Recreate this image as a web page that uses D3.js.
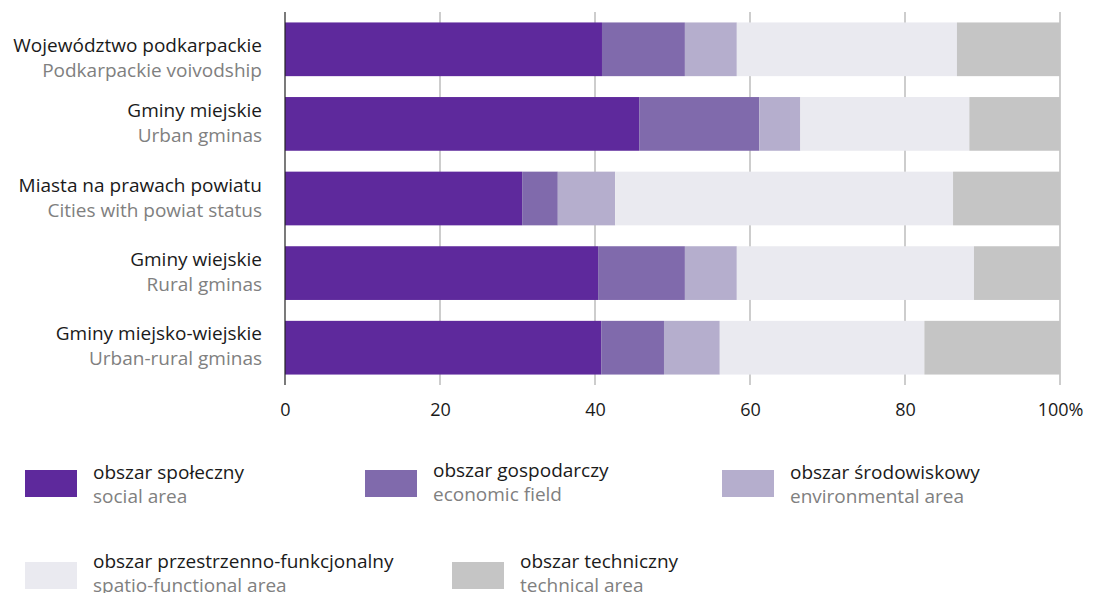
<!DOCTYPE html>
<html><head><meta charset="utf-8">
<script src="https://cdn.jsdelivr.net/npm/d3@7"></script>
<style>
body{margin:0;background:#fff;}
svg{font-family:"Open Sans",sans-serif;}
</style></head>
<body><svg id="chart" width="1093" height="593"></svg>
<script>
const categoriesPL = ["Województwo podkarpackie","Gminy miejskie","Miasta na prawach powiatu","Gminy wiejskie","Gminy miejsko-wiejskie"];
const categoriesEN = ["Podkarpackie voivodship","Urban gminas","Cities with powiat status","Rural gminas","Urban-rural gminas"];
const seriesPL = ["obszar społeczny","obszar gospodarczy","obszar środowiskowy","obszar przestrzenno-funkcjonalny","obszar techniczny"];
const seriesEN = ["social area","economic field","environmental area","spatio-functional area","technical area"];
const social        = [40.9, 45.7, 30.6, 40.4, 40.8];
const economic      = [10.7, 15.5,  4.6, 11.2,  8.1];
const environmental = [ 6.7,  5.3,  7.4,  6.7,  7.2];
const spatial       = [28.4, 21.8, 43.6, 30.6, 26.4];
const technical     = [13.3, 11.7, 13.8, 11.1, 17.5];
const tickValues = [0,20,40,60,80,100];
const tickLabels = ["0","20","40","60","80","100%"];
const colors = ["#5e299c","#806aac","#b5aecd","#eaeaf0","#c5c5c5"];

const FS = 19;
const labelShift = [10,0,0,0,-1];
const seriesVals = [social, economic, environmental, spatial, technical];
const svg = d3.select("#chart");
const x = d3.scaleLinear().domain([0,100]).range([285,1060]);
const y = d3.scaleBand().domain(d3.range(categoriesPL.length)).range([12,385]).paddingInner(0.28).paddingOuter(0.14);

svg.append("g").selectAll("line").data(tickValues.slice(1)).join("line")
  .attr("x1",d=>x(d)).attr("x2",d=>x(d)).attr("y1",12).attr("y2",385)
  .attr("stroke","#bdbdbd").attr("stroke-width",1.5);

const rows = categoriesPL.map((c,i)=>{const o={i}; seriesVals.forEach((s,k)=>o["s"+k]=s[i]); return o;});
const stack = d3.stack().keys(seriesVals.map((_,k)=>"s"+k))(rows);
svg.append("g").selectAll("g").data(stack).join("g").attr("fill",(d,k)=>colors[k])
  .selectAll("rect").data(d=>d).join("rect")
  .attr("x",d=>x(d[0])).attr("width",d=>x(d[1])-x(d[0]))
  .attr("y",d=>y(d.data.i)).attr("height",y.bandwidth());

svg.append("line").attr("x1",x(0)).attr("x2",x(0)).attr("y1",12).attr("y2",385)
  .attr("stroke","#222").attr("stroke-width",1.2);

const xAxis = d3.axisBottom(x).tickValues(tickValues).tickFormat((d,i)=>tickLabels[i]).tickSize(0).tickPadding(0);
const ax = svg.append("g").attr("transform","translate(0,416)").call(xAxis);
ax.select(".domain").remove();
ax.selectAll("text").attr("font-size",FS-1).attr("fill","#1a1a1a").attr("font-family","'Open Sans', sans-serif").attr("dy",0);

const lab = svg.append("g").selectAll("g").data(categoriesPL).join("g")
  .attr("transform",(d,i)=>`translate(262,${y(i)+y.bandwidth()/2+labelShift[i]})`);
lab.append("text").attr("text-anchor","end").attr("y",-7).attr("font-size",FS).attr("fill","#1a1a1a").text(d=>d);
lab.append("text").attr("text-anchor","end").attr("y",18).attr("font-size",FS).attr("fill","#808080").text((d,i)=>categoriesEN[i]);

const legendPos = [[25,470],[365,470],[722,470],[25,562],[452,562]];
const legendDy = [0,-2,0,-3,-3];
const lg = svg.append("g").selectAll("g").data(seriesPL).join("g")
  .attr("transform",(d,k)=>`translate(${legendPos[k][0]},${legendPos[k][1]})`);
lg.append("rect").attr("width",52).attr("height",27).attr("fill",(d,k)=>colors[k]);
lg.append("text").attr("x",68).attr("y",(d,k)=>9+legendDy[k]).attr("font-size",FS).attr("fill","#1a1a1a").text(d=>d);
lg.append("text").attr("x",68).attr("y",(d,k)=>33+legendDy[k]).attr("font-size",FS).attr("fill","#808080").text((d,k)=>seriesEN[k]);
</script></body></html>
